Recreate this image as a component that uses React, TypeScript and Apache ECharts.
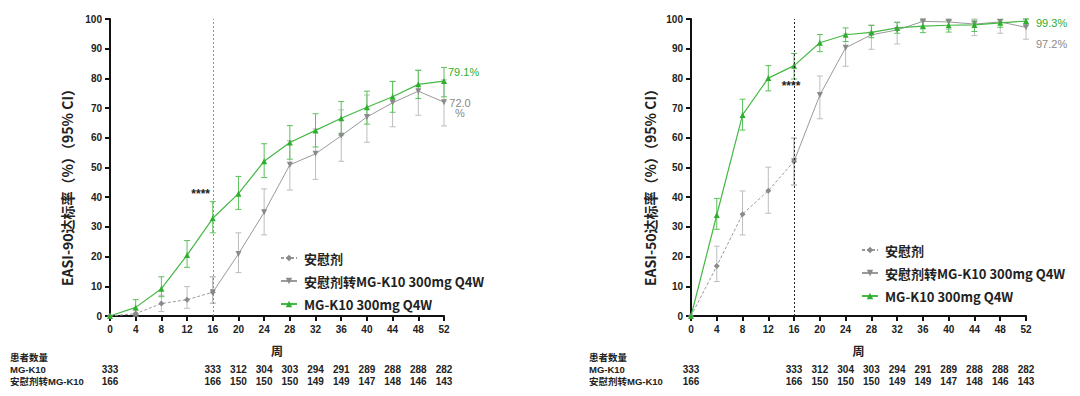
import React, { useEffect, useRef } from "react";
import * as echarts from "echarts";

const weeks = [0, 4, 8, 12, 16, 20, 24, 28, 32, 36, 40, 44, 48, 52];
const placeboWeeks = [0, 4, 8, 12, 16];
const switchWeeks = [16, 20, 24, 28, 32, 36, 40, 44, 48, 52];

// EASI-90
const placebo90 = [0, 0.8, 4.2, 5.5, 8.0];
const placebo90Lo = [0, 0, 1.5, 2.6, 4.3];
const placebo90Hi = [0, 2.0, 7.0, 9.9, 13.2];
const switch90 = [8.0, 20.9, 34.9, 50.9, 54.6, 60.7, 67.0, 71.8, 75.7, 72.0];
const switch90Lo = [4.3, 14.6, 27.3, 42.4, 46.0, 52.1, 58.5, 63.7, 67.6, 64.0];
const switch90Hi = [13.2, 28.0, 42.8, 59.0, 63.0, 69.4, 74.4, 78.9, 82.8, 79.5];
const mg90 = [0, 2.9, 9.2, 20.5, 32.9, 41.2, 52.1, 58.4, 62.5, 66.6, 70.3, 73.8, 78.0, 79.1];
const mg90Lo = [0, 0.5, 6.5, 16.4, 28.0, 35.9, 46.6, 52.8, 56.9, 60.9, 64.6, 68.6, 73.2, 73.8];
const mg90Hi = [0, 5.5, 13.2, 25.4, 38.5, 47.0, 58.0, 64.1, 68.1, 72.2, 75.7, 79.0, 82.7, 83.7];

// EASI-50
const placebo50 = [0, 16.8, 34.3, 42.2, 52.1];
const placebo50Lo = [0, 11.6, 27.3, 34.6, 44.1];
const placebo50Hi = [0, 23.5, 42.1, 50.1, 59.9];
const switch50 = [52.1, 74.4, 90.3, 94.7, 96.3, 99.2, 99.0, 98.3, 99.0, 97.2];
const switch50Lo = [44.1, 66.4, 84.1, 89.8, 91.6, 97.0, 96.5, 94.4, 95.2, 93.2];
const switch50Hi = [59.9, 80.8, 95.0, 98.0, 99.0, 100, 100, 100, 100, 100];
const mg50 = [0, 34.0, 67.7, 80.1, 84.3, 92.0, 94.7, 95.5, 97.0, 97.6, 97.9, 98.0, 98.7, 99.3];
const mg50Lo = [0, 29.2, 62.6, 75.8, 79.8, 89.0, 92.4, 93.7, 95.2, 95.4, 95.6, 95.8, 97.2, 97.9];
const mg50Hi = [0, 39.6, 73.0, 84.3, 88.4, 94.8, 97.0, 97.8, 98.8, 99.4, 99.5, 99.6, 99.8, 100];

// Patients at risk
const countWeeks = [0, 16, 20, 24, 28, 32, 36, 40, 44, 48, 52];
const countMG = [333, 333, 312, 304, 303, 294, 291, 289, 288, 288, 282];
const countSwitch = [166, 166, 150, 150, 150, 149, 149, 147, 148, 146, 143];
const rowLabels = ["患者数量", "MG-K10", "安慰剂转MG-K10"];

const S_PLACEBO = "安慰剂";
const S_SWITCH = "安慰剂转MG-K10 300mg Q4W";
const S_MG = "MG-K10 300mg Q4W";

const GREEN = "#2fae2f";
const GREEN_LINE = "#45b845";
const GREEN_ERR = "#5cc05c";
const GREY = "#8a8a8a";
const GREY_LINE = "#9a9a9a";
const GREY_ERR = "#bdbdbd";
const FONT = "'Liberation Sans', 'Noto Sans CJK SC', sans-serif";
const CJK = "'Noto Sans CJK SC', 'Liberation Sans', sans-serif";

function zip(xs: number[], ys: number[]) {
  return xs.map((x, i) => [x, ys[i]]);
}
function zip3(xs: number[], lo: number[], hi: number[]) {
  return xs.map((x, i) => [x, lo[i], hi[i]]);
}

function errSeries(idx: number, data: number[][], color: string) {
  return {
    type: "custom",
    xAxisIndex: idx * 3,
    yAxisIndex: idx,
    silent: true,
    z: 1,
    encode: { x: 0, y: [1, 2] },
    data,
    renderItem: (params: any, api: any) => {
      const x = api.value(0);
      const lo = api.value(1);
      const hi = api.value(2);
      if (hi - lo < 0.01) return null;
      const p1 = api.coord([x, lo]);
      const p2 = api.coord([x, hi]);
      const w = 3;
      const st = { stroke: color, lineWidth: 1 };
      return {
        type: "group",
        children: [
          { type: "line", shape: { x1: p1[0], y1: p1[1], x2: p2[0], y2: p2[1] }, style: st },
          { type: "line", shape: { x1: p1[0] - w, y1: p1[1], x2: p1[0] + w, y2: p1[1] }, style: st },
          { type: "line", shape: { x1: p2[0] - w, y1: p2[1], x2: p2[0] + w, y2: p2[1] }, style: st },
        ],
      };
    },
  };
}

function lineSeries(idx: number, name: string, data: number[][], kind: string, extra: any = {}) {
  const base: any = {
    type: "line",
    name,
    xAxisIndex: idx * 3,
    yAxisIndex: idx,
    data,
    z: 3,
    symbolSize: 6,
    ...extra,
  };
  if (kind === "placebo") {
    base.symbol = "diamond";
    base.symbolSize = 6;
    base.itemStyle = { color: GREY };
    base.lineStyle = { color: GREY_LINE, width: 1, type: [3, 2] };
  } else if (kind === "switch") {
    base.symbol = "triangle";
    base.symbolRotate = 180;
    base.itemStyle = { color: GREY };
    base.lineStyle = { color: GREY_LINE, width: 1 };
  } else {
    base.symbol = "triangle";
    base.itemStyle = { color: GREEN };
    base.lineStyle = { color: GREEN_LINE, width: 1.2 };
  }
  return base;
}

export default function App() {
  const ref = useRef<HTMLDivElement>(null);
  useEffect(() => {
    if (!ref.current) return;
    const chart = echarts.init(ref.current, undefined, { renderer: "svg" });

    const grids = [
      { left: 110, right: 636, top: 19, bottom: 80 },
      { left: 691, right: 54, top: 19, bottom: 80 },
    ];

    const xAxes: any[] = [];
    const yAxes: any[] = [];
    [0, 1].forEach((g) => {
      xAxes.push({
        type: "value",
        gridIndex: g,
        min: 0,
        max: 52,
        interval: 4,
        name: "周",
        nameLocation: "middle",
        nameGap: 28,
        nameTextStyle: { fontFamily: CJK, fontWeight: "bold", fontSize: 12, color: "#222" },
        axisLine: { lineStyle: { color: "#111", width: 2 } },
        axisTick: { show: true, length: 5, lineStyle: { color: "#111", width: 2 } },
        axisLabel: { fontFamily: FONT, fontWeight: "bold", fontSize: 10, color: "#222", margin: 8 },
        splitLine: { show: false },
      });
      [
        { offset: 53, vals: countMG },
        { offset: 65, vals: countSwitch },
      ].forEach((row) => {
        xAxes.push({
          type: "value",
          gridIndex: g,
          position: "bottom",
          offset: row.offset,
          min: 0,
          max: 52,
          interval: 4,
          axisLine: { show: false },
          axisTick: { show: false },
          splitLine: { show: false },
          axisLabel: {
            margin: 0,
            verticalAlign: "middle",
            lineHeight: 11,
            fontFamily: FONT,
            fontWeight: "bold",
            fontSize: 10,
            color: "#222",
            formatter: (v: number) => {
              const i = countWeeks.indexOf(v);
              return i >= 0 ? String(row.vals[i]) : "";
            },
          },
        });
      });
      yAxes.push({
        type: "value",
        gridIndex: g,
        min: 0,
        max: 100,
        interval: 10,
        axisLine: { show: true, lineStyle: { color: "#111", width: 2 } },
        axisTick: { show: true, length: 5, lineStyle: { color: "#111", width: 2 } },
        axisLabel: { fontFamily: FONT, fontWeight: "bold", fontSize: 10, color: "#222", margin: 8 },
        splitLine: { show: false },
      });
    });

    const vline = (color: string, width: number) => ({
      silent: true,
      symbol: "none",
      label: { show: false },
      lineStyle: { color, width, type: [2, 2] },
      data: [{ xAxis: 16 }],
    });

    const series: any[] = [
      errSeries(0, zip3(placeboWeeks, placebo90Lo, placebo90Hi), GREY_ERR),
      errSeries(0, zip3(switchWeeks, switch90Lo, switch90Hi), GREY_ERR),
      errSeries(0, zip3(weeks, mg90Lo, mg90Hi), GREEN_ERR),
      lineSeries(0, S_PLACEBO, zip(placeboWeeks, placebo90), "placebo"),
      lineSeries(0, S_SWITCH, zip(switchWeeks, switch90), "switch"),
      lineSeries(0, S_MG, zip(weeks, mg90), "mg", { markLine: vline("#777", 0.8) }),
      errSeries(1, zip3(placeboWeeks, placebo50Lo, placebo50Hi), GREY_ERR),
      errSeries(1, zip3(switchWeeks, switch50Lo, switch50Hi), GREY_ERR),
      errSeries(1, zip3(weeks, mg50Lo, mg50Hi), GREEN_ERR),
      lineSeries(1, S_PLACEBO, zip(placeboWeeks, placebo50), "placebo"),
      lineSeries(1, S_SWITCH, zip(switchWeeks, switch50), "switch"),
      lineSeries(1, S_MG, zip(weeks, mg50), "mg", { markLine: vline("#222", 1) }),
    ];

    const legendBase = {
      orient: "vertical",
      itemWidth: 16,
      itemHeight: 8,
      itemGap: 7,
      data: [S_PLACEBO, S_SWITCH, S_MG],
      textStyle: {
        fontFamily: CJK,
        fontWeight: "bold",
        fontSize: 13,
        lineHeight: 16,
        color: "#222",
        padding: [0, 0, 0, 2],
      },
      selectedMode: false,
    };

    const txt = (x: number, y: number, text: string, opts: any = {}) => ({
      type: "text",
      x,
      y,
      silent: true,
      style: {
        text,
        fill: opts.fill || "#222",
        font: opts.font || `bold 10px ${FONT}`,
        textAlign: opts.align || "left",
        textVerticalAlign: "middle",
        lineHeight: opts.lineHeight,
      },
      rotation: opts.rotation || 0,
    });

    const rowFont = `bold 9.5px ${FONT}`;
    const rowYs = [357, 369, 381];
    const graphic: any[] = [
      txt(67, 184, "EASI-90达标率（%）（95% CI）", { font: `bold 14px ${CJK}`, align: "center", rotation: Math.PI / 2 }),
      txt(650, 184, "EASI-50达标率（%）（95% CI）", { font: `bold 14px ${CJK}`, align: "center", rotation: Math.PI / 2 }),
      txt(210, 194, "****", { font: `bold 12px ${FONT}`, align: "right" }),
      txt(791, 86, "****", { font: `bold 12px ${FONT}`, align: "center" }),
      txt(448, 72, "79.1%", { font: `11px ${FONT}`, fill: GREEN }),
      txt(460, 103, "72.0", { font: `11px ${FONT}`, fill: GREY, align: "center" }),
      txt(460, 113, "%", { font: `11px ${FONT}`, fill: GREY, align: "center" }),
      txt(1036, 23, "99.3%", { font: `11px ${FONT}`, fill: GREEN }),
      txt(1036, 44, "97.2%", { font: `11px ${FONT}`, fill: GREY }),
    ];
    [10, 589].forEach((x) => {
      rowLabels.forEach((t, i) => graphic.push(txt(x, rowYs[i], t, { font: rowFont, lineHeight: 11 })));
    });

    chart.setOption({
      animation: false,
      backgroundColor: "#fff",
      grid: grids,
      xAxis: xAxes,
      yAxis: yAxes,
      legend: [
        { ...legendBase, left: 275, top: 245 },
        { ...legendBase, left: 856, top: 237 },
      ],
      series,
      graphic,
    });
    return () => chart.dispose();
  }, []);
  return (
    <div
      ref={ref}
      style={{ position: "fixed", left: 0, top: 0, width: 1080, height: 396, background: "#fff" }}
    />
  );
}
